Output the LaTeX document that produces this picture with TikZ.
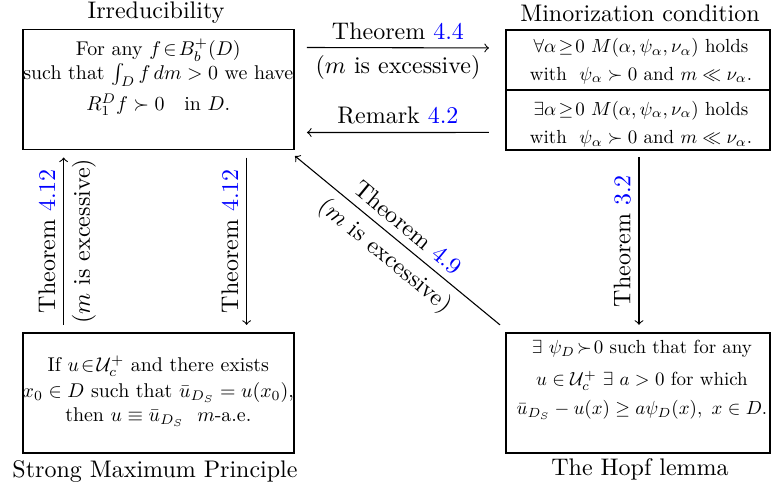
\documentclass[tikz,border=0pt]{standalone}
\usepackage{amsmath,amssymb}
\usetikzlibrary{calc}
\newcommand\tightmath{\thickmuskip=2mu plus 2mu\relax\medmuskip=2mu plus 1mu\relax}
\begin{document}
\begin{tikzpicture}[x=0.01465cm,y=-0.01465cm,
  box/.style={draw, line width=0.8pt, inner sep=0pt, outer sep=0pt},
  boxtext/.style={align=center, inner sep=0pt, scale=0.83, font=\fontsize{10}{10.5}\selectfont},
  boxtextsm/.style={align=center, inner sep=0pt, scale=0.79, font=\fontsize{10}{10.5}\selectfont},
  title/.style={inner sep=0pt, font=\fontsize{10}{12}\selectfont},
  lab/.style={inner sep=3.2pt, font=\fontsize{10}{12}\selectfont},
  conn/.style={->, line width=0.45pt}
]
\useasboundingbox (0,0) rectangle (771,492);

% boxes
\node[box, minimum width=3.975cm, minimum height=1.758cm] (irr) at (158.3,89.5) {};
\node[box, minimum width=3.868cm, minimum height=1.765cm] (min) at (638,90.2) {};
\draw[line width=0.8pt] (min.west) -- (min.east);
\node[box, minimum width=3.975cm, minimum height=1.762cm] (smp) at (158.3,393) {};
\node[box, minimum width=3.868cm, minimum height=1.762cm] (hopf) at (638,393) {};

% titles
\node[title] (irrt) at (156,13) {Irreducibility};
\node[title] (mint) at (640,13) {Minorization condition};
\node[title] (smpt) at (155,472) {Strong Maximum Principle};
\node[title] (hopft) at (640,469) {The Hopf lemma};

% box texts
\node[boxtext, anchor=north] (irrx) at (158.3,38) {\tightmath For any $f\in B_b^+(D)$\\ such that $\int_D f\,dm>0$ we have\\[2.5pt] $R_1^D f\succ 0$\quad in $D$.};
\node[boxtextsm] (minx1) at (641,61) {\tightmath $\forall\alpha\geq 0$ $M(\alpha,\psi_\alpha,\nu_\alpha)$ holds\\[4pt] with\ \ $\psi_\alpha\succ 0$ and $m\ll\nu_\alpha$.};
\node[boxtextsm] (minx2) at (641,124) {\tightmath $\exists\alpha\geq 0$ $M(\alpha,\psi_\alpha,\nu_\alpha)$ holds\\[4.5pt] with\ \ $\psi_\alpha\succ 0$ and $m\ll\nu_\alpha$.};
\node[boxtext, anchor=north] (smpx) at (158.3,355) {\tightmath If $u\in\mathcal{U}_c^+$ and there exists\\[2.5pt] $x_0\in D$ such that $\bar u_{D_S}=u(x_0)$,\\[1.5pt] then $u\equiv\bar u_{D_S}$\ \ $m$-a.e.};
\node[boxtextsm, anchor=north] (hopfx) at (642,340) {\tightmath $\exists\ \psi_D\succ 0$ such that for any\\[6.5pt] $u\in\mathcal{U}_c^+$ $\exists\ a>0$ for which\\[4.5pt] $\bar u_{D_S}-u(x)\geq a\psi_D(x),\ x\in D$.};

% connectors
\draw[conn] ($(irr.north east)+(13,18)$) -- ($(min.north west)+(-17,18)$)
  node[lab, midway, above] {Theorem \textcolor{blue}{4.4}}
  node[lab, midway, below] {($m$ is excessive)};
\draw[conn] ($(min.south west)+(-17,-18)$) -- ($(irr.south east)+(13,-17)$)
  node[lab, midway, above] {Remark \textcolor{blue}{4.2}};
\draw[conn] ($(smp.north west)+(41,-8)$) -- ($(irr.south west)+(41,8)$)
  node[lab, midway, rotate=90, anchor=south] {Theorem \textcolor{blue}{4.12}}
  node[lab, midway, rotate=90, anchor=north] {($m$ is excessive)};
\draw[conn] ($(irr.south west)+(224,8)$) -- ($(smp.north west)+(224,-8)$)
  node[lab, midway, rotate=90, anchor=south] {Theorem \textcolor{blue}{4.12}};
\draw[conn] ($(hopf.north west)+(-6,-8)$) -- ($(irr.south east)+(1,6.5)$)
  node[lab, midway, rotate=-39.5, anchor=south] {Theorem \textcolor{blue}{4.9}}
  node[lab, midway, rotate=-39.5, anchor=north] {($m$ is excessive)};
\draw[conn] ($(min.south)+(1,7)$) -- ($(hopf.north)+(1,-8)$)
  node[lab, midway, rotate=90, anchor=south] {Theorem \textcolor{blue}{3.2}};
\end{tikzpicture}
\end{document}
